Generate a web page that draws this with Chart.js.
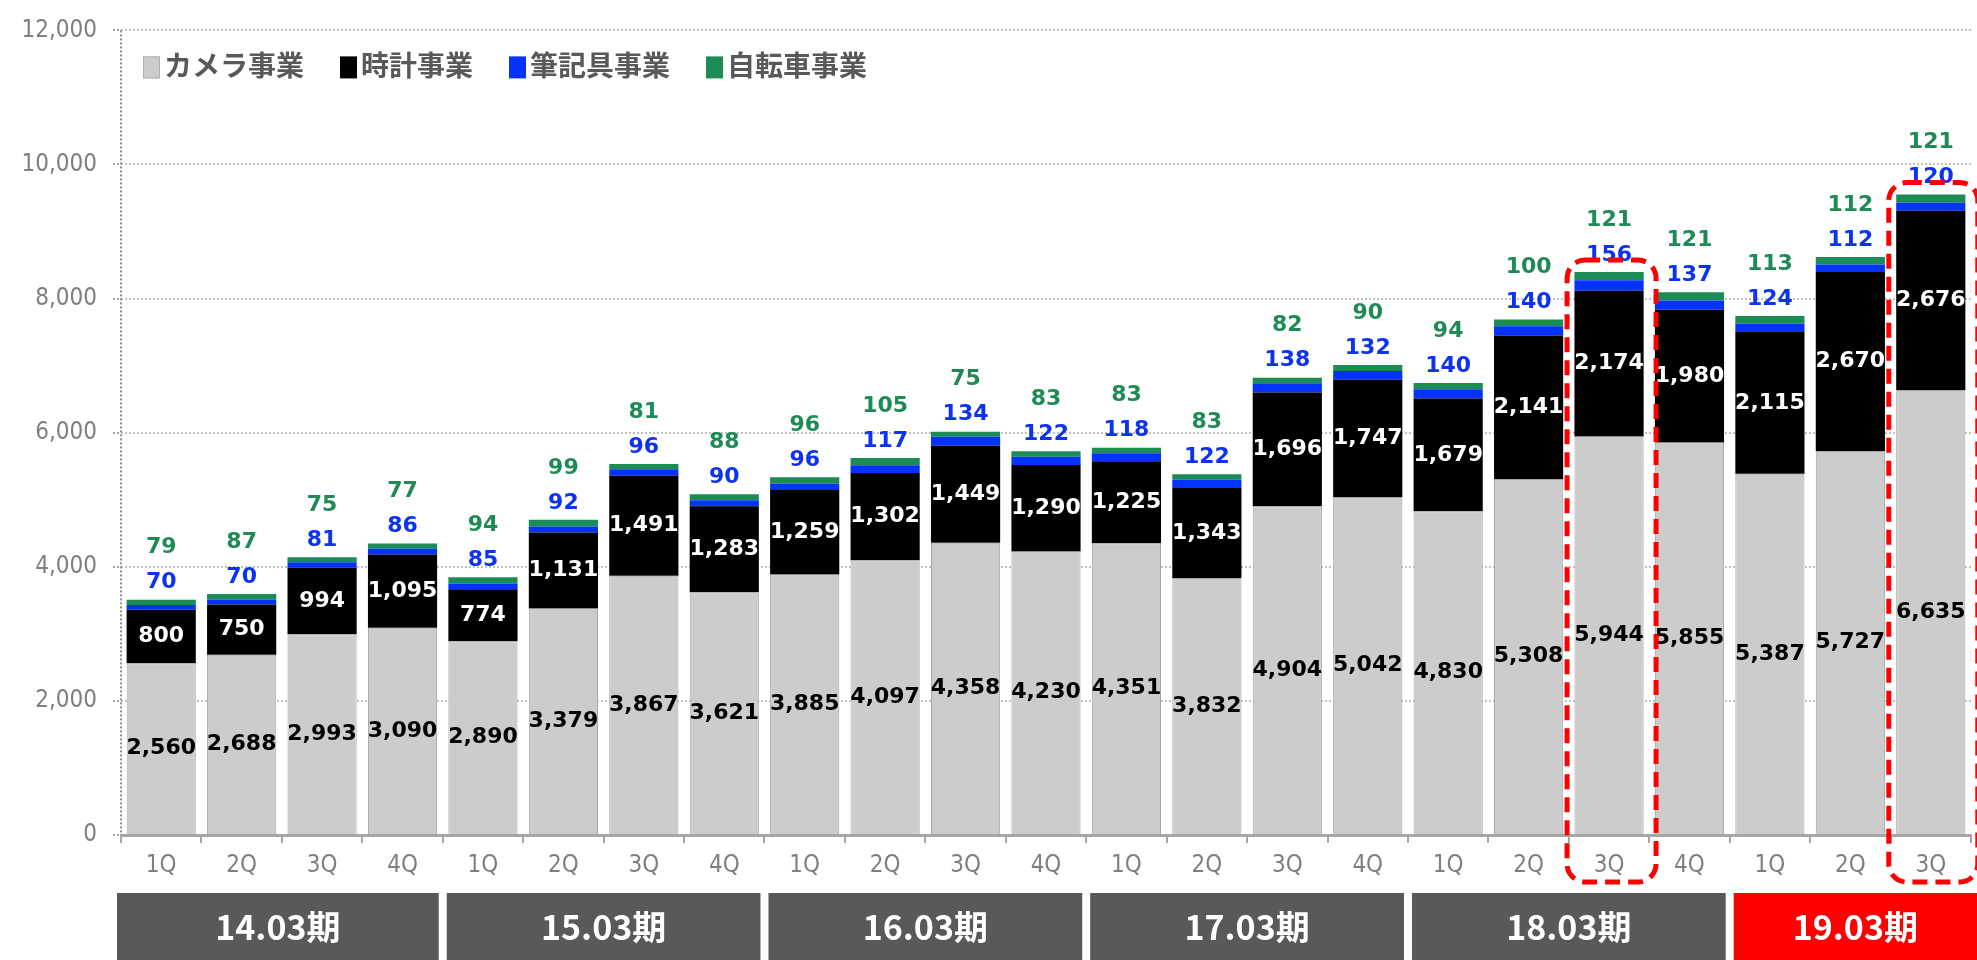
<!DOCTYPE html>
<html><head><meta charset="utf-8">
<script src="https://cdn.jsdelivr.net/npm/chart.js@4.4.0/dist/chart.umd.min.js"></script>
<style>html,body{margin:0;padding:0;background:#fff;overflow:hidden}canvas{display:block}</style>
</head><body>
<canvas id="c" width="1977" height="960"></canvas>
<script>
const quarters = ['1Q','2Q','3Q','4Q','1Q','2Q','3Q','4Q','1Q','2Q','3Q','4Q','1Q','2Q','3Q','4Q','1Q','2Q','3Q','4Q','1Q','2Q','3Q'];
const camera = [2560,2688,2993,3090,2890,3379,3867,3621,3885,4097,4358,4230,4351,3832,4904,5042,4830,5308,5944,5855,5387,5727,6635];
const watch = [800,750,994,1095,774,1131,1491,1283,1259,1302,1449,1290,1225,1343,1696,1747,1679,2141,2174,1980,2115,2670,2676];
const stationery = [70,70,81,86,85,92,96,90,96,117,134,122,118,122,138,132,140,140,156,137,124,112,120];
const bicycle = [79,87,75,77,94,99,81,88,96,105,75,83,83,83,82,90,94,100,121,121,113,112,121];
const periods = ['14.03期','15.03期','16.03期','17.03期','18.03期','19.03期'];
const periodSizes = [4,4,4,4,4,3];
const seriesNames = ['カメラ事業','時計事業','筆記具事業','自転車事業'];
const highlighted = [18,22];

const COLORS = ['#cccccc','#000000','#0433ff','#1b8c55'];
const fmt = v => v.toLocaleString('en-US');
const CJK = '"Noto Sans CJK JP","Noto Sans",sans-serif';
const LBL = '"DejaVu Sans",sans-serif';
const COND = '"DejaVu Sans Condensed","DejaVu Sans",sans-serif';

const axisLinePlugin = {
  id: 'yAxisLine',
  beforeDatasetsDraw(chart) {
    const {ctx, chartArea} = chart;
    ctx.save();
    ctx.strokeStyle = '#8c8c8c';
    ctx.lineWidth = 2;
    ctx.setLineDash([2, 2]);
    ctx.beginPath();
    ctx.moveTo(chartArea.left, chartArea.top);
    ctx.lineTo(chartArea.left, chartArea.bottom);
    ctx.stroke();
    ctx.restore();
  }
};

const labelPlugin = {
  id: 'valueLabels',
  afterDatasetsDraw(chart) {
    const ctx = chart.ctx;
    const m0 = chart.getDatasetMeta(0), m1 = chart.getDatasetMeta(1), m3 = chart.getDatasetMeta(3);
    ctx.save();
    ctx.font = 'bold 22px ' + LBL;
    ctx.textAlign = 'center';
    ctx.textBaseline = 'middle';
    m0.data.forEach((bar, i) => {
      ctx.fillStyle = '#000';
      ctx.fillText(fmt(camera[i]), bar.x, (bar.y + bar.base) / 2);
      const b1 = m1.data[i];
      ctx.fillStyle = '#fff';
      ctx.fillText(fmt(watch[i]), b1.x, (b1.y + b1.base) / 2);
      const top = m3.data[i].y;
      ctx.fillStyle = '#0d33f2';
      ctx.fillText(fmt(stationery[i]), bar.x, top - 17);
      ctx.fillStyle = '#1e8a55';
      ctx.fillText(fmt(bicycle[i]), bar.x, top - 52);
    });
    ctx.restore();
  }
};

const decoPlugin = {
  id: 'deco',
  afterDraw(chart) {
    const {ctx, chartArea, scales} = chart;
    const xs = scales.x;
    const cat = xs.getPixelForValue(1) - xs.getPixelForValue(0);
    ctx.save();
    // legend
    ctx.font = 'bold 28px ' + CJK;
    ctx.textBaseline = 'middle';
    ctx.textAlign = 'left';
    let lx = chartArea.left + 22;
    const ly = chartArea.top + 35;
    chart.data.datasets.forEach((ds, i) => {
      ctx.fillStyle = ds.backgroundColor;
      ctx.fillRect(lx, ly - 9, 17, 22);
      if (i === 0) { ctx.strokeStyle = '#b0b0b0'; ctx.lineWidth = 1; ctx.strokeRect(lx + 0.5, ly - 8.5, 16, 21); }
      ctx.fillStyle = '#595959';
      ctx.fillText(ds.label, lx + 21, ly);
      lx += 21 + ctx.measureText(ds.label).width + 36;
    });
    // highlight boxes
    const m3 = chart.getDatasetMeta(3);
    ctx.strokeStyle = '#ff0000';
    ctx.lineWidth = 5;
    ctx.setLineDash([15, 8]);
    highlighted.forEach(i => {
      const b = m3.data[i];
      const left = b.x - 42, right = b.x + 47;
      const top = b.y - 12, bottom = chartArea.bottom + 47;
      ctx.beginPath();
      ctx.roundRect(left, top, right - left, bottom - top, 18);
      ctx.stroke();
    });
    ctx.setLineDash([]);
    // period boxes
    let start = 0;
    ctx.font = 'bold 34px ' + CJK;
    ctx.textAlign = 'center';
    periods.forEach((p, k) => {
      const end = start + periodSizes[k] - 1;
      let left = xs.getPixelForValue(start) - cat / 2 + 4;
      if (k === 0) left = chartArea.left - 4;
      let right = xs.getPixelForValue(end) + cat / 2 - 4;
      if (k === periods.length - 1) right = chart.width;
      const top = chartArea.bottom + 58, bottom = chart.height;
      ctx.fillStyle = k === periods.length - 1 ? '#ff0000' : '#595959';
      ctx.fillRect(left, top, right - left, bottom - top);
      ctx.fillStyle = '#ffffff';
      ctx.fillText(p, (left + right) / 2, (top + bottom) / 2 + 1);
      start = end + 1;
    });
    ctx.restore();
  }
};

new Chart(document.getElementById('c'), {
  type: 'bar',
  data: {
    labels: quarters,
    datasets: [
      {label: seriesNames[0], data: camera, backgroundColor: COLORS[0], borderColor: '#a6a6a6', borderWidth: 1},
      {label: seriesNames[1], data: watch, backgroundColor: COLORS[1]},
      {label: seriesNames[2], data: stationery, backgroundColor: COLORS[2]},
      {label: seriesNames[3], data: bicycle, backgroundColor: COLORS[3]}
    ]
  },
  options: {
    responsive: false,
    animation: false,
    devicePixelRatio: 1,
    layout: {padding: {top: 24, right: 6, bottom: 0, left: 0}},
    plugins: {legend: {display: false}, tooltip: {enabled: false}},
    datasets: {bar: {categoryPercentage: 1, barPercentage: 0.86}},
    scales: {
      x: {
        stacked: true,
        offset: true,
        grid: {display: true, drawOnChartArea: false, drawTicks: true, tickLength: 8, color: '#a6a6a6', lineWidth: 2, offset: true},
        border: {display: true, color: '#a6a6a6', width: 3},
        ticks: {color: '#7f7f7f', font: {family: COND, size: 24}, padding: 8, maxRotation: 0, autoSkip: false},
        afterFit(s) { s.height = 125; }
      },
      y: {
        stacked: true,
        min: 0,
        max: 12000,
        ticks: {stepSize: 2000, color: '#7f7f7f', font: {family: COND, size: 24}, padding: 16, callback: v => fmt(v)},
        grid: {color: '#c0c0c0', lineWidth: 2, tickLength: 8, tickBorderDash: [2, 2], tickColor: '#a0a0a0'},
        border: {display: false, dash: [2, 2]},
        afterFit(s) { s.width = 121; }
      }
    }
  },
  plugins: [axisLinePlugin, labelPlugin, decoPlugin]
});
</script>
</body></html>
